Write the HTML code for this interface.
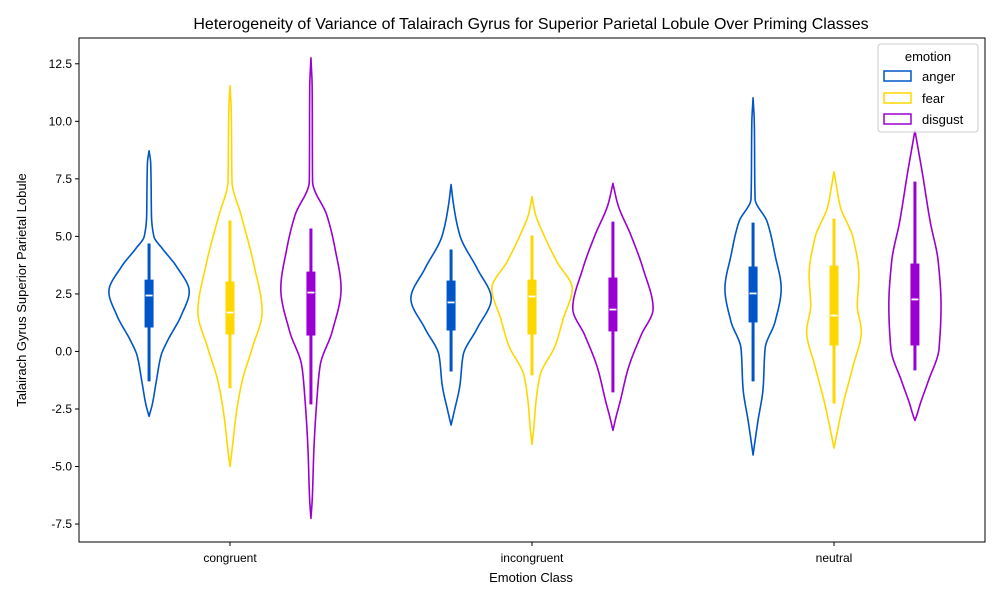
<!DOCTYPE html>
<html><head><meta charset="utf-8"><style>
body{margin:0;background:#fff;font-family:"Liberation Sans","DejaVu Sans",sans-serif}
svg text{font-family:"Liberation Sans","DejaVu Sans",sans-serif;fill:#000}
</style></head><body>
<svg id="chart" width="1000" height="600" viewBox="0 0 1000 600">
<rect x="0" y="0" width="1000" height="600" fill="#fff"/>
<text x="531" y="29" font-size="16" text-anchor="middle">Heterogeneity of Variance of Talairach Gyrus for Superior Parietal Lobule Over Priming Classes</text>
<g id="plot"></g>
<rect x="79" y="38" width="906" height="504" fill="none" stroke="#000" stroke-width="1"/>
<text x="531" y="582" font-size="13" text-anchor="middle">Emotion Class</text>
<text transform="translate(26,290) rotate(-90)" font-size="13" text-anchor="middle">Talairach Gyrus Superior Parietal Lobule</text>
<g>
<rect x="878" y="44" width="100" height="88" rx="3" fill="#fff" fill-opacity="0.8" stroke="#ccc"/>
<text x="928" y="61" font-size="13" text-anchor="middle">emotion</text>
<g><rect x="884" y="71" width="27" height="10" fill="none" stroke="#0055c8" stroke-width="1.5"/><text x="922" y="81" font-size="13">anger</text></g>
<g><rect x="884" y="93" width="27" height="10" fill="none" stroke="#ffd700" stroke-width="1.5"/><text x="922" y="103" font-size="13">fear</text></g>
<g><rect x="884" y="114" width="27" height="10" fill="none" stroke="#9b00d3" stroke-width="1.5"/><text x="922" y="124" font-size="13">disgust</text></g>
</g>
</svg>
<script>
const categories = ["congruent","incongruent","neutral"];
const hues = ["anger","fear","disgust"];
const yTicks = [-7.5,-5.0,-2.5,0.0,2.5,5.0,7.5,10.0,12.5];
// density profiles: [value, relative density] from top tip to bottom tip, per category then hue
const profiles = [
 [[[8.72,0],[8.2,0.04],[7.4,0.05],[5.9,0.06],[5.0,0.12],[4.47,0.33],[3.7,0.68],[2.6,1.0],[1.56,0.8],[0.43,0.45],[-0.17,0.3],[-1.3,0.18],[-2.3,0.08],[-2.82,0]],
  [[11.55,0],[10.5,0.03],[7.4,0.05],[5.9,0.28],[3.73,0.6],[1.74,0.8],[0.13,0.55],[-1.3,0.3],[-2.78,0.15],[-4.3,0.05],[-5.0,0]],
  [[12.76,0],[11.5,0.03],[7.4,0.04],[5.9,0.4],[4.47,0.6],[2.73,0.75],[0.87,0.53],[-0.6,0.23],[-2.04,0.15],[-4.2,0.075],[-6.5,0.03],[-7.25,0]]],
 [[[7.25,0],[6.4,0.06],[5.04,0.22],[3.6,0.65],[2.3,1.0],[1.0,0.65],[-0.17,0.3],[-1.47,0.22],[-2.6,0.08],[-3.2,0]],
  [[6.73,0],[6.0,0.08],[5.04,0.3],[3.9,0.62],[2.73,1.0],[1.43,0.78],[0.26,0.58],[-1.04,0.2],[-2.17,0.1],[-3.4,0.04],[-4.04,0]],
  [[7.3,0],[6.4,0.12],[5.04,0.45],[3.6,0.75],[1.87,1.0],[0.7,0.7],[-0.74,0.38],[-2.17,0.18],[-2.9,0.07],[-3.43,0]]],
 [[[11.02,0],[10.0,0.03],[6.64,0.05],[5.64,0.35],[4.17,0.55],[2.73,0.7],[1.3,0.55],[0.13,0.3],[-1.6,0.25],[-3.04,0.12],[-4.0,0.04],[-4.5,0]],
  [[7.81,0],[7.2,0.06],[6.34,0.15],[4.9,0.48],[3.3,0.62],[2.0,0.58],[0.87,0.68],[-0.6,0.48],[-2.34,0.22],[-3.5,0.08],[-4.2,0]],
  [[9.6,0],[8.8,0.08],[7.8,0.18],[5.64,0.38],[3.9,0.58],[2.0,0.65],[0.13,0.6],[-1.3,0.33],[-2.34,0.12],[-2.7,0.06],[-3.0,0]]]
];
const whiskerLo = [[-1.3,-1.6,-2.3],[-0.87,-1.04,-1.78],[-1.3,-2.26,-0.82]];
const whiskerHi = [[4.69,5.69,5.34],[4.43,5.04,5.64],[5.6,5.77,7.38]];
const q1 = [[1.04,0.74,0.69],[0.91,0.74,0.87],[1.26,0.26,0.26]];
const q3 = [[3.12,3.04,3.47],[3.08,3.12,3.21],[3.69,3.73,3.82]];
const medians = [[2.43,1.69,2.56],[2.13,2.39,1.82],[2.52,1.56,2.26]];

const colors = ["#0055c8","#ffd700","#9b00d3"];
const NS="http://www.w3.org/2000/svg";
const L=79,R=985,T=38,B=542;
const yMin=-8.28, yMax=13.62;
const y = v => B - (v - yMin)/(yMax - yMin)*(B-T);
const bandW=(R-L)/categories.length;
const xCat = i => L + bandW*(i+0.5);
const hueOff = j => (j-1)*bandW*0.268;
const maxHalf = bandW*0.133;
const g=document.getElementById('plot');
function mk(tag,attrs){const e=document.createElementNS(NS,tag);for(const k in attrs)e.setAttribute(k,attrs[k]);return e;}

yTicks.forEach(t=>{
  const yy=y(t);
  const tk=mk('line',{x1:L-4,x2:L,y1:yy,y2:yy,stroke:'#000'});
  
  
  g.appendChild(tk);
  const tx=mk('text',{x:L-7,y:yy+4,'font-size':12,'text-anchor':'end'});
  tx.textContent=t.toFixed(1);
  
  
  g.appendChild(tx);
});
categories.forEach((c,i)=>{
  const xx=xCat(i);
  const tk=mk('line',{x1:xx,x2:xx,y1:B,y2:B+4,stroke:'#000'});
  
  
  g.appendChild(tk);
  const tx=mk('text',{x:xx,y:B+20,'font-size':12,'text-anchor':'middle'});
  tx.textContent=c;
  
  
  g.appendChild(tx);
});
// PCHIP interpolation of density over value (ascending)
function pchip(xs,ys){
  const n=xs.length,h=[],d=[],m=new Array(n).fill(0);
  for(let k=0;k<n-1;k++){h[k]=xs[k+1]-xs[k];d[k]=(ys[k+1]-ys[k])/h[k];}
  m[0]=d[0];m[n-1]=d[n-2];
  for(let k=1;k<n-1;k++){
    if(d[k-1]*d[k]<=0)m[k]=0;
    else{const w1=2*h[k]+h[k-1],w2=h[k]+2*h[k-1];m[k]=(w1+w2)/(w1/d[k-1]+w2/d[k]);}
  }
  return v=>{
    let k=0;while(k<n-2&&v>xs[k+1])k++;
    const t=(v-xs[k])/h[k],t2=t*t,t3=t2*t;
    return (2*t3-3*t2+1)*ys[k]+(t3-2*t2+t)*h[k]*m[k]+(-2*t3+3*t2)*ys[k+1]+(t3-t2)*h[k]*m[k+1];
  };
}
categories.forEach((c,i)=>{
  hues.forEach((h,j)=>{
    const cx=xCat(i)+hueOff(j);
    const prof=profiles[i][j].slice().sort((a,b)=>a[0]-b[0]);
    const xs=prof.map(p=>p[0]),ds=prof.map(p=>p[1]);
    const f=pchip(xs,ds);
    const lo=xs[0],hi=xs[xs.length-1],N=240;
    const right=[],left=[];
    for(let k=0;k<=N;k++){
      const v=hi-(hi-lo)*k/N;
      const w=Math.max(0,f(v))*maxHalf;
      right.push((cx+w).toFixed(2)+','+y(v).toFixed(2));
      left.unshift((cx-w).toFixed(2)+','+y(v).toFixed(2));
    }
    const path=mk('path',{d:'M'+right.join(' L')+' L'+left.join(' L')+'Z',fill:'none',stroke:colors[j],'stroke-width':1.6,'stroke-linejoin':'round'});
    
    
    g.appendChild(path);
    const wl=mk('line',{x1:cx,x2:cx,y1:y(whiskerHi[i][j]),y2:y(whiskerLo[i][j]),stroke:colors[j],'stroke-width':3});
    
    
    g.appendChild(wl);
    const bx=mk('rect',{x:cx-4.5,width:9,y:y(q3[i][j]),height:y(q1[i][j])-y(q3[i][j]),fill:colors[j]});
    
    
    g.appendChild(bx);
    const md=mk('line',{x1:cx-3.5,x2:cx+3.5,y1:y(medians[i][j]),y2:y(medians[i][j]),stroke:'#fff','stroke-width':1.8});
    
    
    g.appendChild(md);
  });
});
</script>
</body></html>
